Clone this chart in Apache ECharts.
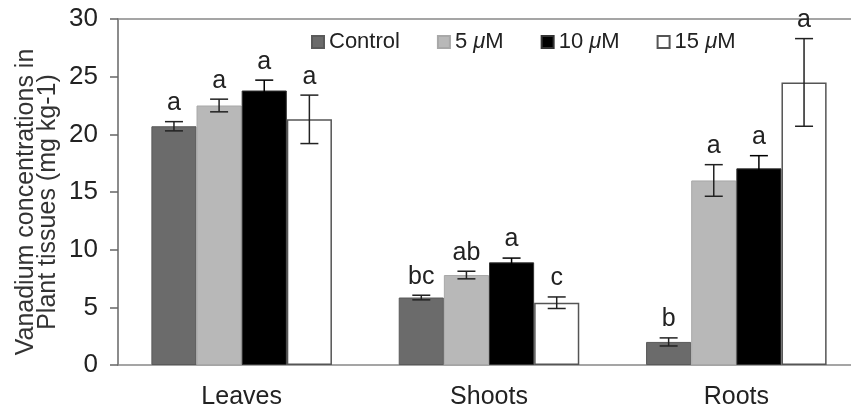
<!DOCTYPE html>
<html>
<head>
<meta charset="utf-8">
<script src="https://cdn.jsdelivr.net/npm/echarts@6/dist/echarts.min.js"></script>
<style>html,body{margin:0;padding:0;background:#fff;overflow:hidden}#c{width:880px;height:410px}</style>
</head>
<body>
<div id="c"></div>
<script>
const categories = ['Leaves', 'Shoots', 'Roots'];
const treatments = ['Control', '5 μM', '10 μM', '15 μM'];
const yTicks = [0, 5, 10, 15, 20, 25, 30];

const controlMean = [20.7, 5.85, 2.0];
const controlErr = [0.4, 0.2, 0.35];
const controlLetters = ['a', 'bc', 'b'];

const um5Mean = [22.5, 7.8, 16.0];
const um5Err = [0.55, 0.33, 1.37];
const um5Letters = ['a', 'ab', 'a'];

const um10Mean = [23.8, 8.9, 17.05];
const um10Err = [0.9, 0.37, 1.1];
const um10Letters = ['a', 'a', 'a'];

const um15Mean = [21.3, 5.4, 24.5];
const um15Err = [2.1, 0.5, 3.8];
const um15Letters = ['a', 'c', 'a'];

const means = [controlMean, um5Mean, um10Mean, um15Mean];
const errs = [controlErr, um5Err, um10Err, um15Err];
const letters = [controlLetters, um5Letters, um10Letters, um15Letters];

const barStyles = [
  { color: '#6b6b6b', borderColor: '#5a5a5a', borderWidth: 1 },
  { color: '#b8b8b8', borderColor: '#a8a8a8', borderWidth: 1 },
  { color: '#000000', borderColor: '#333333', borderWidth: 1 },
  { color: '#ffffff', borderColor: '#555555', borderWidth: 1.5 }
];
const GAP = 0.27;
const FONT = 'Liberation Sans, Arial, Helvetica, sans-serif';

const chart = echarts.init(document.getElementById('c'));
const series = [];
treatments.forEach((t, i) => {
  series.push({
    name: t, type: 'bar', data: means[i],
    barGap: '0%', barCategoryGap: (GAP * 100) + '%',
    itemStyle: barStyles[i], emphasis: { disabled: true }
  });
});
treatments.forEach((t, i) => {
  series.push({
    name: 'err' + i, type: 'custom',
    data: categories.map((c, k) => [k, means[i][k], errs[i][k]]),
    z: 5,
    renderItem: function (params, api) {
      const cat = api.value(0), m = api.value(1), e = api.value(2);
      const band = api.size([1, 0])[0];
      const bw = band * (1 - GAP) / 4;
      const off = (i - 1.5) * bw;
      const top = api.coord([cat, m + e]);
      const bot = api.coord([cat, m - e]);
      const x = top[0] + off;
      const cap = 9;
      const ls = { stroke: i === 2 ? '#000' : '#222', lineWidth: 1.5 };
      return {
        type: 'group',
        children: [
          { type: 'line', shape: { x1: x, y1: top[1], x2: x, y2: bot[1] }, style: ls },
          { type: 'line', shape: { x1: x - cap, y1: top[1], x2: x + cap, y2: top[1] }, style: ls },
          { type: 'line', shape: { x1: x - cap, y1: bot[1], x2: x + cap, y2: bot[1] }, style: ls },
          { type: 'text', x: x, y: top[1] - 6,
            style: { text: letters[i][params.dataIndex], fill: '#222', font: '25px ' + FONT,
                     textAlign: 'center', textVerticalAlign: 'bottom' } }
        ]
      };
    }
  });
});

chart.setOption({
  animation: false,
  backgroundColor: '#fff',
  textStyle: { fontFamily: FONT },
  grid: { left: 118, top: 19, width: 742, height: 349 },
  legend: {
    data: treatments, left: 306, top: 26, icon: 'rect', itemWidth: 12, itemHeight: 12,
    itemGap: 37,
    formatter: n => n.replace('μ', '{i|μ}'),
    textStyle: { fontSize: 22, color: '#222', fontFamily: FONT,
      rich: { i: { fontStyle: 'italic', fontSize: 22, color: '#222', fontFamily: FONT } } }
  },
  xAxis: [
    { type: 'category', data: categories, position: 'bottom',
      axisLine: { lineStyle: { color: '#888', width: 1.5 } }, axisTick: { show: false },
      axisLabel: { fontSize: 25, color: '#222', margin: 20 } },
    { type: 'category', data: categories, position: 'top',
      axisLine: { lineStyle: { color: '#888', width: 1.5 } }, axisTick: { show: false },
      axisLabel: { show: false } }
  ],
  yAxis: {
    type: 'value', min: yTicks[0], max: yTicks[yTicks.length - 1], interval: 5,
    splitLine: { show: false },
    axisLine: { show: true, lineStyle: { color: '#666', width: 1.5 } },
    axisTick: { show: true, inside: false, length: 8, lineStyle: { color: '#666', width: 1.5 } },
    axisLabel: { fontSize: 26, color: '#222', margin: 20 }
  },
  graphic: [{
    type: 'text', x: 37, y: 202, rotation: Math.PI / 2,
    style: { text: 'Vanadium concentrations in\nPlant tissues (mg kg-1)', font: '25px ' + FONT,
             fill: '#333', textAlign: 'center', textVerticalAlign: 'middle', lineHeight: 22 }
  }],
  series: series
});
</script>
</body>
</html>
